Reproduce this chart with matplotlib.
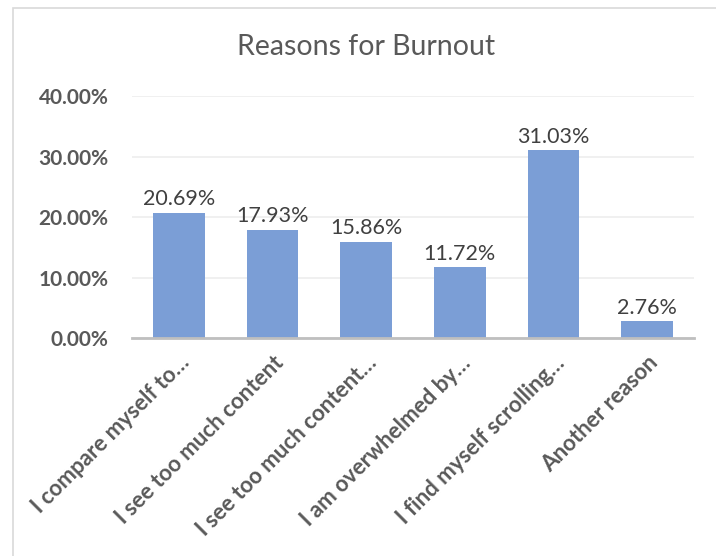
import matplotlib.pyplot as plt
from matplotlib.patches import Rectangle
from matplotlib.ticker import FuncFormatter

# survey answers and their share of responses
reasons = [
    "I compare myself to…",
    "I see too much content",
    "I see too much content…",
    "I am overwhelmed by…",
    "I find myself scrolling…",
    "Another reason",
]
shares = [20.69, 17.93, 15.86, 11.72, 31.03, 2.76]
y_ticks = [0, 10, 20, 30, 40]

plt.rcParams["font.family"] = ["Lato", "DejaVu Sans"]

fig = plt.figure(figsize=(7.16, 5.56), dpi=100)
ax = fig.add_axes([0.1844, 0.392, 0.785, 0.4353])

# light frame round the chart
fig.patches.append(Rectangle((13 / 716, -0.01), 1.0, 1 - 8 / 556 + 0.01,
                             transform=fig.transFigure, fill=False,
                             edgecolor="#d9d9d9", linewidth=1.2))

x = range(len(reasons))
bars = ax.bar(x, shares, width=0.55, color="#7b9ed6", zorder=3)

for b, v in zip(bars, shares):
    ax.text(b.get_x() + b.get_width() / 2, v + 0.6, f"{v:.2f}%",
            ha="center", va="bottom", fontsize=15.5, color="#404040")

ax.set_xlim(-0.5, len(reasons) - 0.5)
ax.set_ylim(0, 40)
ax.set_yticks(y_ticks)
ax.yaxis.set_major_formatter(FuncFormatter(lambda v, p: f"{v:.2f}%"))
ax.grid(axis="y", color="#ededed", linewidth=1.2, zorder=0)

for s in ["top", "right", "left"]:
    ax.spines[s].set_visible(False)
ax.spines["bottom"].set_color("#bfbfbf")
ax.spines["bottom"].set_linewidth(2)
ax.spines["bottom"].set_zorder(4)

ax.tick_params(axis="both", length=0)
ax.tick_params(axis="y", pad=17, labelsize=15, labelcolor="#595959")
for lab in ax.get_yticklabels():
    lab.set_fontweight("bold")

ax.set_xticks(list(x))
ax.set_xticklabels(reasons, rotation=45, ha="right", rotation_mode="anchor",
                   fontsize=16, fontweight="bold", color="#595959")
ax.tick_params(axis="x", pad=10)

fig.text(0.511, 1 - 47 / 556, "Reasons for Burnout", ha="center", va="center",
         fontsize=20.5, color="#595959")

fig.savefig("out.png", dpi=100)
